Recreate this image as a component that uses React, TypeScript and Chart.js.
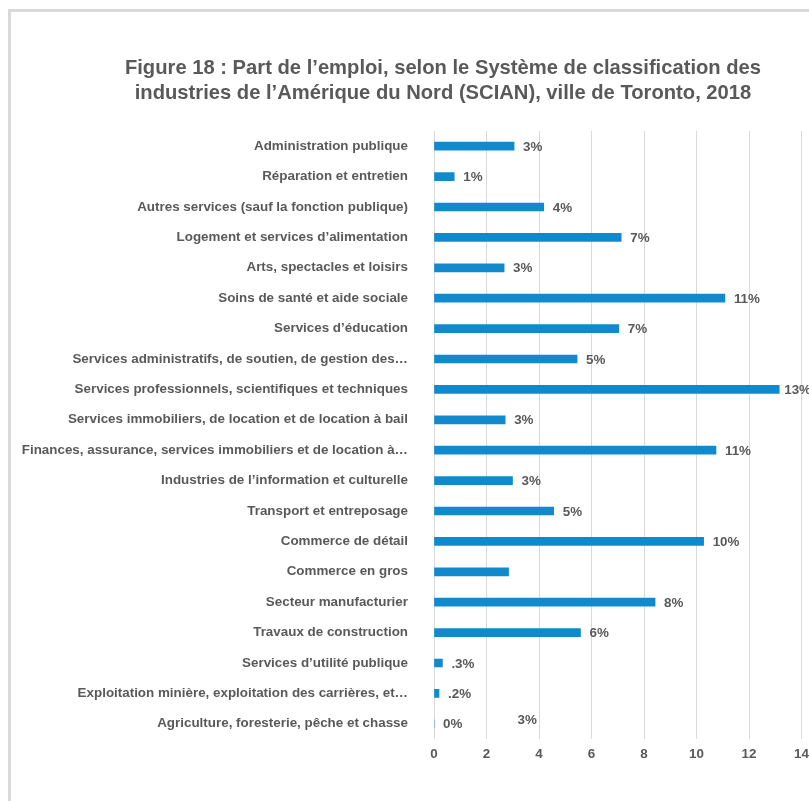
import React, { useEffect, useRef } from "react";
import { Chart, registerables } from "chart.js";

Chart.register(...registerables);

const titleLines = [
  "Figure 18 : Part de l’emploi, selon le Système de classification des",
  "industries de l’Amérique du Nord (SCIAN), ville de Toronto, 2018",
];

const categories = [
  "Administration publique",
  "Réparation et entretien",
  "Autres services (sauf la fonction publique)",
  "Logement et services d’alimentation",
  "Arts, spectacles et loisirs",
  "Soins de santé et aide sociale",
  "Services d’éducation",
  "Services administratifs, de soutien, de gestion des…",
  "Services professionnels, scientifiques et techniques",
  "Services immobiliers, de location et de location à bail",
  "Finances, assurance, services immobiliers et de location à…",
  "Industries de l’information et culturelle",
  "Transport et entreposage",
  "Commerce de détail",
  "Commerce en gros",
  "Secteur manufacturier",
  "Travaux de construction",
  "Services d’utilité publique",
  "Exploitation minière, exploitation des carrières, et…",
  "Agriculture, foresterie, pêche et chasse",
];

const shares = [
  3.05, 0.77, 4.18, 7.13, 2.67, 11.08, 7.04, 5.45, 13.15, 2.71,
  10.74, 2.99, 4.56, 10.27, 2.84, 8.42, 5.58, 0.32, 0.19, 0,
];

const valueLabels = [
  "3%", "1%", "4%", "7%", "3%", "11%", "7%", "5%", "13%", "3%",
  "11%", "3%", "5%", "10%", "3%", "8%", "6%", ".3%", ".2%", "0%",
];

// The "Commerce en gros" label is displaced to the last row in the original
const displacedLabelRow: Record<number, number> = { 14: 19 };

const xTicks = [0, 2, 4, 6, 8, 10, 12, 14];

const TEXT = "#595959";
const BAR = "#1089CD";
const GRID = "#d9d9d9";
const FONT = "'Liberation Sans', Arial, Helvetica, sans-serif";
const FS = 13.4;

const labelPlugin = {
  id: "valueLabels",
  afterDatasetsDraw(chart: any) {
    const ctx = chart.ctx;
    const meta = chart.getDatasetMeta(0);
    ctx.save();
    ctx.font = `bold ${FS}px ${FONT}`;
    ctx.fillStyle = TEXT;
    ctx.textBaseline = "middle";
    ctx.textAlign = "left";
    meta.data.forEach((bar: any, i: number) => {
      const text = valueLabels[i];
      if (!text) return;
      let x = bar.x + 9;
      let y = bar.y;
      const target = displacedLabelRow[i];
      if (target !== undefined) {
        y = meta.data[target].y - 4;
      }
      const w = ctx.measureText(text).width;
      if (x + w > chart.width + 2) x = chart.width + 2 - w;
      ctx.fillText(text, x, y + 1);
    });
    ctx.restore();
  },
};

export default function App() {
  const ref = useRef<HTMLCanvasElement | null>(null);

  useEffect(() => {
    if (!ref.current) return;
    const chart = new Chart(ref.current, {
      type: "bar",
      data: {
        labels: categories,
        datasets: [
          {
            data: shares,
            backgroundColor: BAR,
            borderWidth: 0,
            barThickness: 8,
          },
        ],
      },
      options: {
        indexAxis: "y",
        responsive: false,
        animation: false,
        layout: { padding: { left: 0, right: 7, top: 131, bottom: 32 } },
        plugins: {
          legend: { display: false },
          title: { display: false },
          tooltip: { enabled: false },
        },
        scales: {
          x: {
            type: "linear",
            min: 0,
            max: 14,
            afterBuildTicks: (scale: any) => {
              scale.ticks = xTicks.map((v) => ({ value: v }));
            },
            afterFit: (scale: any) => {
              scale.height = 30;
            },
            grid: {
              color: GRID,
              lineWidth: 1,
              drawTicks: true,
              tickLength: 7,
              tickColor: "rgba(0,0,0,0)",
            },
            border: { display: false },
            ticks: {
              padding: 0,
              color: TEXT,
              font: { family: FONT, size: FS, weight: "bold" },
            },
          },
          y: {
            type: "category",
            afterFit: (scale: any) => {
              scale.width = 434;
            },
            grid: { display: false, drawTicks: false },
            border: { display: false },
            ticks: {
              padding: 26,
              color: TEXT,
              autoSkip: false,
              font: { family: FONT, size: FS, weight: "bold" },
            },
          },
        },
      },
      plugins: [labelPlugin],
    });
    return () => chart.destroy();
  }, []);

  return (
    <div
      style={{
        position: "absolute",
        left: 0,
        top: 0,
        width: 809,
        height: 801,
        overflow: "hidden",
        background: "#fff",
      }}
    >
      <div
        style={{
          position: "absolute",
          left: 8,
          top: 9,
          width: 900,
          height: 900,
          borderLeft: "3px solid #d9d9d9",
          borderTop: "3px solid #d9d9d9",
        }}
      />
      <canvas
        ref={ref}
        width={809}
        height={801}
        style={{ position: "absolute", left: 0, top: 0 }}
      />
      <div
        style={{
          position: "absolute",
          left: 0,
          top: 55,
          width: 886,
          textAlign: "center",
          fontFamily: FONT,
          fontWeight: "bold",
          fontSize: 20.2,
          lineHeight: "25px",
          color: TEXT,
        }}
      >
        {titleLines.map((l, i) => (
          <div key={i} style={{ whiteSpace: "nowrap" }}>{l}</div>
        ))}
      </div>
    </div>
  );
}
